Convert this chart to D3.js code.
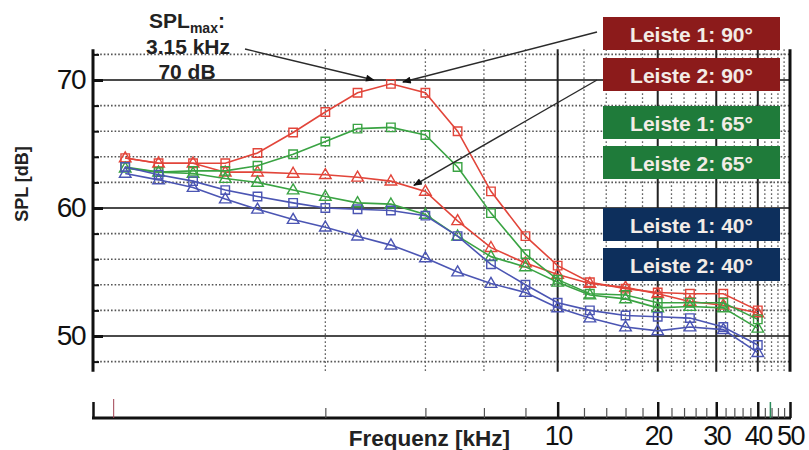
<!DOCTYPE html>
<html>
<head>
<meta charset="utf-8">
<script src="https://cdn.jsdelivr.net/npm/d3@7"></script>
<style>
body{margin:0;background:#fff}
svg{display:block}
text{font-family:"Liberation Sans",Arial,sans-serif}
</style>
</head>
<body>
<svg id="chart" width="809" height="450"></svg>
<script>
// Terzband-Mittenfrequenzen [kHz]
const freqs = [0.5, 0.63, 0.8, 1, 1.25, 1.6, 2, 2.5, 3.15, 4, 5, 6.3, 8, 10, 12.5, 16, 20, 25, 31.5, 40];

// SPL [dB] je Leiste / Winkel
const leiste1_90 = [63.9, 63.5, 63.5, 63.5, 64.3, 65.9, 67.5, 69.0, 69.7, 69.0, 66.0, 61.3, 57.8, 55.5, 54.2, 53.7, 53.4, 53.3, 53.3, 52.0];
const leiste2_90 = [63.9, 63.5, 63.5, 62.8, 62.8, 62.7, 62.6, 62.4, 62.1, 61.3, 59.0, 56.9, 55.7, 54.8, 54.1, 53.8, 53.3, 52.7, 52.4, 51.8];
const leiste1_65 = [63.2, 62.8, 62.9, 62.9, 63.3, 64.2, 65.2, 66.2, 66.3, 65.7, 63.2, 59.6, 56.4, 54.4, 53.3, 53.2, 52.6, 52.6, 52.6, 51.3];
const leiste2_65 = [63.1, 62.8, 62.7, 62.3, 62.0, 61.4, 60.9, 60.4, 60.3, 59.5, 57.8, 56.2, 55.4, 54.2, 53.2, 52.9, 52.2, 52.3, 52.2, 50.6];
const leiste1_40 = [63.2, 62.6, 62.1, 61.4, 60.9, 60.4, 60.0, 59.9, 59.8, 59.4, 57.8, 55.6, 54.0, 52.6, 52.0, 51.6, 51.5, 51.4, 50.7, 49.3];
const leiste2_40 = [62.7, 62.2, 61.6, 60.7, 59.9, 59.1, 58.5, 57.8, 57.1, 56.1, 55.0, 54.1, 53.4, 52.2, 51.4, 50.7, 50.4, 50.7, 50.5, 48.7];

const seriesNames = ["Leiste 1: 90°", "Leiste 2: 90°", "Leiste 1: 65°", "Leiste 2: 65°", "Leiste 1: 40°", "Leiste 2: 40°"];
const seriesValues = [leiste1_90, leiste2_90, leiste1_65, leiste2_65, leiste1_40, leiste2_40];

// Achsen
const yMajor = [50, 60, 70];
const yMinor = [48, 52, 54, 56, 58, 62, 64, 66, 68, 72];
const xMajor = [10, 20, 30, 40, 50];
const xMinor = [2, 4, 6, 8, 12, 14, 16, 18, 22, 24, 26, 28, 32, 34, 36, 38, 42, 44, 46, 48];
const xLabels = ["10", "20", "30", "40", "50"];

// Annotation
const peakFreq = 3.15, peakLevel = 70;

// Stile
const lineColors = ["#e2453a", "#e2453a", "#3aa343", "#3aa343", "#4b55b3", "#4b55b3"];
const boxColors = ["#8c1b1b", "#8c1b1b", "#1f7b3a", "#1f7b3a", "#0d2f5c", "#0d2f5c"];
const symbols = ["square", "triangle", "square", "triangle", "square", "triangle"];

const svg = d3.select("#chart");
const x = d3.scaleLog().domain([0.4, 50]).range([93, 790]);
const y = d3.scaleLinear().domain([50, 70]).range([336, 80]);
const plotTop = y(72.4), plotBottom = y(47.2);

// Gitter horizontal
svg.append("g").selectAll("line").data(yMinor).join("line")
  .attr("x1", x(0.4)).attr("x2", x(50))
  .attr("y1", d => y(d)).attr("y2", d => y(d))
  .attr("stroke", "#555").attr("stroke-width", 1.6).attr("stroke-dasharray", "1.6,2");
svg.append("g").selectAll("line").data(yMajor).join("line")
  .attr("x1", x(0.4)).attr("x2", x(50))
  .attr("y1", d => y(d)).attr("y2", d => y(d))
  .attr("stroke", "#4a4a4a").attr("stroke-width", 1.8);

// Gitter vertikal
svg.append("g").selectAll("line").data(xMinor).join("line")
  .attr("x1", d => x(d)).attr("x2", d => x(d))
  .attr("y1", plotTop).attr("y2", plotBottom)
  .attr("stroke", "#666").attr("stroke-width", 1.3).attr("stroke-dasharray", "1.6,2.4");
svg.append("g").selectAll("line").data(xMajor.slice(0, 4)).join("line")
  .attr("x1", d => x(d)).attr("x2", d => x(d))
  .attr("y1", plotTop).attr("y2", plotBottom)
  .attr("stroke", "#222").attr("stroke-width", 2);

// Rahmen links / rechts
svg.append("line").attr("x1", x(0.4)).attr("x2", x(0.4)).attr("y1", plotTop).attr("y2", plotBottom)
  .attr("stroke", "#111").attr("stroke-width", 3);
svg.append("line").attr("x1", x(50)).attr("x2", x(50)).attr("y1", plotTop).attr("y2", plotBottom)
  .attr("stroke", "#111").attr("stroke-width", 3);

// Y-Achse Ticks
const yTickMajor = d3.axisRight(y).tickValues(yMajor).tickSize(10).tickFormat("");
const yTickMinor = d3.axisRight(y).tickValues(yMinor).tickSize(6).tickFormat("");
svg.append("g").attr("transform", `translate(${x(0.4)},0)`).call(yTickMajor)
  .call(g => g.select(".domain").remove())
  .call(g => g.selectAll("line").attr("stroke", "#111").attr("stroke-width", 3));
svg.append("g").attr("transform", `translate(${x(0.4)},0)`).call(yTickMinor)
  .call(g => g.select(".domain").remove())
  .call(g => g.selectAll("line").attr("stroke", "#111").attr("stroke-width", 2));
svg.append("g").attr("transform", `translate(${x(0.4) - 6},0)`)
  .call(d3.axisLeft(y).tickValues(yMajor).tickSize(0).tickPadding(2))
  .call(g => g.select(".domain").remove())
  .call(g => g.selectAll("text").attr("font-size", 28).attr("fill", "#111")
    .attr("font-family", "'Liberation Sans',Arial,sans-serif").attr("letter-spacing", -1.5));

svg.append("text").attr("transform", "translate(28,184) rotate(-90)")
  .attr("text-anchor", "middle").attr("font-size", 18).attr("font-weight", "bold").attr("fill", "#222")
  .text("SPL [dB]");

// Kurven
const line = d3.line().x(d => x(d[0])).y(d => y(d[1]));
seriesValues.forEach((vals, i) => {
  const pts = freqs.map((f, j) => [f, vals[j]]);
  const g = svg.append("g");
  g.append("path").datum(pts).attr("d", line)
    .attr("fill", "none").attr("stroke", lineColors[i]).attr("stroke-width", 1.6);
  const sym = d3.symbol().type(symbols[i] === "square" ? d3.symbolSquare : d3.symbolTriangle)
    .size(symbols[i] === "square" ? 72 : 58);
  g.selectAll("path.m").data(pts).join("path").attr("class", "m")
    .attr("transform", d => `translate(${x(d[0])},${y(d[1]) + (symbols[i] === "triangle" ? 0.5 : 0)})`)
    .attr("d", sym)
    .attr("fill", "none").attr("stroke", lineColors[i]).attr("stroke-width", 1.4);
});

// Frequenzachse unten
const axisY = 418;
svg.append("line").attr("x1", x(0.4) - 1).attr("x2", x(50) + 1).attr("y1", axisY).attr("y2", axisY)
  .attr("stroke", "#111").attr("stroke-width", 3);
svg.append("g").attr("transform", `translate(0,${axisY})`)
  .call(d3.axisTop(x).tickValues([0.4].concat(xMajor)).tickSize(16).tickFormat(""))
  .call(g => g.select(".domain").remove())
  .call(g => g.selectAll("line").attr("stroke", "#111").attr("stroke-width", 2.5));
svg.append("g").attr("transform", `translate(0,${axisY})`)
  .call(d3.axisTop(x).tickValues(xMinor).tickSize(10).tickFormat(""))
  .call(g => g.select(".domain").remove())
  .call(g => g.selectAll("line").attr("stroke", "#555").attr("stroke-width", 1.2));
svg.append("g").attr("transform", `translate(0,${axisY})`)
  .call(d3.axisTop(x).tickValues([0.46]).tickSize(19).tickFormat(""))
  .call(g => g.select(".domain").remove())
  .call(g => g.selectAll("line").attr("stroke", "#a04050").attr("stroke-width", 1));
svg.append("g").attr("transform", `translate(0,${axisY})`)
  .call(d3.axisTop(x).tickValues([43.5]).tickSize(16).tickFormat(""))
  .call(g => g.select(".domain").remove())
  .call(g => g.selectAll("line").attr("stroke", "#2a8a5a").attr("stroke-width", 1.5));
svg.append("g").attr("transform", `translate(0,${axisY})`)
  .call(d3.axisBottom(x).tickValues(xMajor).tickSize(0).tickPadding(8)
    .tickFormat((d, i) => xLabels[i]))
  .call(g => g.select(".domain").remove())
  .call(g => g.selectAll("text").attr("font-size", 27).attr("fill", "#111")
    .attr("font-family", "'Liberation Sans',Arial,sans-serif").attr("letter-spacing", -1.5));
svg.append("text").attr("x", 510).attr("y", 446).attr("text-anchor", "end")
  .attr("font-size", 22.5).attr("font-weight", "bold").attr("fill", "#222")
  .text("Frequenz [kHz]");

// Pfeile
const defs = svg.append("defs");
defs.append("marker").attr("id", "arr").attr("viewBox", "0 0 10 8")
  .attr("refX", 9).attr("refY", 4).attr("markerWidth", 10).attr("markerHeight", 7)
  .attr("markerUnits", "userSpaceOnUse").attr("orient", "auto")
  .append("path").attr("d", "M0,0 L10,4 L0,8 Z").attr("fill", "#111");

const arrows = [
  [245, 49, x(peakFreq) - 17, y(peakLevel)],
  [597, 32, x(peakFreq) + 12, y(peakLevel) + 2],
  [597, 80, x(peakFreq) + 23, y(62) + 3]
];
svg.append("g").selectAll("line").data(arrows).join("line")
  .attr("x1", d => d[0]).attr("y1", d => d[1]).attr("x2", d => d[2]).attr("y2", d => d[3])
  .attr("stroke", "#2a2a2a").attr("stroke-width", 1.4).attr("marker-end", "url(#arr)");

// Beschriftung Maximum
const ann = svg.append("g").attr("font-weight", "bold").attr("fill", "#222").attr("text-anchor", "middle");
const t1 = ann.append("text").attr("x", 187).attr("y", 28).attr("font-size", 21);
t1.append("tspan").text("SPL");
t1.append("tspan").attr("font-size", 14).attr("dy", 5).text("max");
t1.append("tspan").attr("dy", -5).text(":");
ann.append("text").attr("x", 188).attr("y", 54).attr("font-size", 21).text(peakFreq.toFixed(2) + " kHz");
ann.append("text").attr("x", 187).attr("y", 79).attr("font-size", 21).text(peakLevel + " dB");

// Legende
const boxTops = [17, 58, 106, 146, 208, 248];
const leg = svg.append("g").selectAll("g").data(seriesNames).join("g")
  .attr("transform", (d, i) => `translate(603,${boxTops[i]})`);
leg.append("rect").attr("width", 177).attr("height", 33).attr("fill", (d, i) => boxColors[i]);
leg.append("text").attr("x", 88.5).attr("y", 24.5).attr("text-anchor", "middle")
  .attr("font-size", 21).attr("font-weight", "bold").attr("fill", "#f3ece6").text(d => d);
</script>
</body>
</html>
